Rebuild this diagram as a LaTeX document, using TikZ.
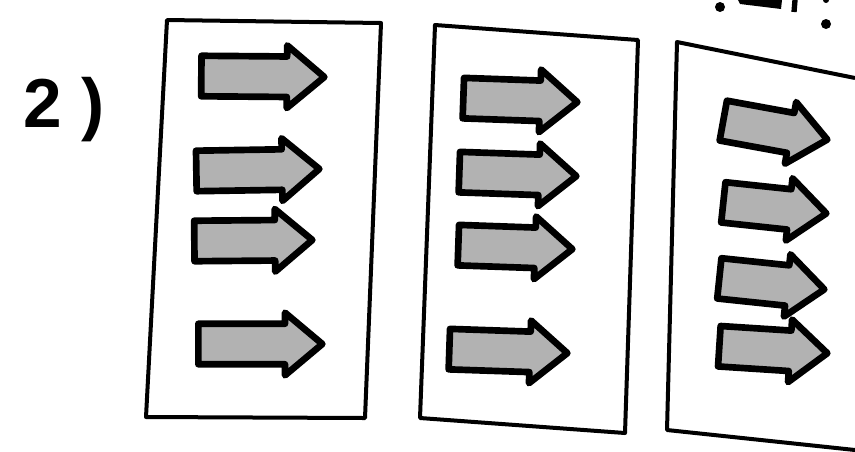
\documentclass[tikz,border=0pt]{standalone}
\usepackage{fontspec}
\setmainfont{Liberation Sans}
\usetikzlibrary{shapes.arrows,calc}

\begin{document}
\begin{tikzpicture}[x=0.75pt,y=-0.75pt,
  frame/.style={draw=black,line width=3pt,line join=round},
  blockarrow/.style={single arrow,draw=black,fill=gray!60,line width=5pt,line join=round,
    inner xsep=0pt,inner ysep=10.5pt,minimum width=47pt,single arrow tip angle=80},
  speck/.style={fill=black}]
\useasboundingbox (0,0) rectangle (855,451);

\node[anchor=base west,font=\fontsize{52}{52}\selectfont\bfseries] (lbl) at (19,127) {2 )};

% three sheets
\draw[frame] (167,20) -- (381,23) -- (365,418) -- (146,417) -- cycle;
\draw[frame] (435,25) -- (638,40) -- (625,433) -- (420,418) -- cycle;
\draw[frame] (855,78) -- (677,42) -- (667,430) -- (855,450);

% arrows: name / tail / tip
\foreach \nm/\tx/\ty/\hx/\hy in {a1/198/76/321/77, a2/193/171/316/169, a3/191/241/309/240, a4/195/344/319/344,
    b1/460/98/574/102, b2/456/172/573/176, b3/455/245/569/249, b4/446/349/564/353,
    c1/720/120/824/139, c2/720/202/823/213, c3/716/278/821/289, c4/716/346/824/353} {
  \path let \p1=(\tx,\ty), \p2=(\hx,\hy), \n1={atan2(\y2-\y1,\x2-\x1)}, \n2={veclen(\x2-\x1,\y2-\y1)} in
    node[blockarrow,rotate=\n1,minimum height=\n2,anchor=tail] (\nm) at (\p1) {};
}

% cut-off marks at the top edge
\fill[speck] (720,7) circle (5);
\fill[speck] (738,0) -- (782,0) -- (781,9) -- (740,4) -- cycle;
\draw[line width=4pt] (795,0) -- (794,12);
\fill[speck] (826,24) circle (5);
\fill[speck] (826,0) circle (3);
\end{tikzpicture}
\end{document}
